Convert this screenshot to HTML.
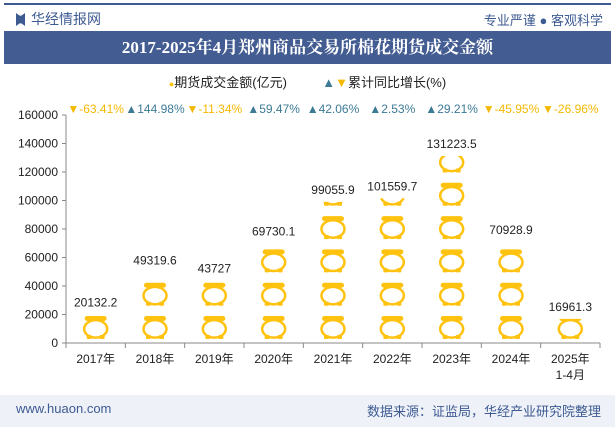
<!DOCTYPE html>
<html><head><meta charset="utf-8"><style>
body{margin:0;width:615px;height:427px;background:#fff;font-family:"Liberation Sans","Noto Sans CJK SC",sans-serif;overflow:hidden;position:relative}
.abs{position:absolute}
</style></head><body>
<div class="abs" style="left:4px;top:3px;width:607px;height:2px;background:#3d5a91"></div>
<div class="abs" style="left:16px;top:9px;font-size:14px;color:#3d5a91">
<span style="display:inline-block;width:9px;height:13px;background:#3d5a91;vertical-align:-2px;margin-right:6px;clip-path:polygon(0 0,40% 20%,60% 20%,100% 0,100% 100%,60% 80%,40% 80%,0 100%)"></span>华经情报网</div>
<div class="abs" style="right:12px;top:10px;font-size:13px;color:#3d5a91">专业严谨 ● 客观科学</div>
<div class="abs" style="left:4px;top:31px;width:607px;height:33px;background:#435c91;color:#fff;font:bold 17px 'Liberation Serif','Noto Serif CJK SC',serif;text-align:center;line-height:33px">2017-2025年4月郑州商品交易所棉花期货成交金额</div>
<div class="abs" style="left:0;width:615px;top:72px;text-align:center;font-size:13px;color:#222">
<span><span style="color:#FFC20E;font-size:9px">●</span>期货成交金额(亿元)</span>
<span style="display:inline-block;width:28px"></span>
<span><span style="color:#3c7a96">▲</span><span style="color:#f5b800">▼</span>累计同比增长(%)</span></div>
<svg class="abs" style="left:0;top:0" width="615" height="427" id="chart"></svg>
<div class="abs" style="left:0;top:395px;width:615px;height:32px;background:#eef1f8"></div>
<div class="abs" style="left:16px;top:401px;font-size:13px;color:#3d5a91">www.huaon.com</div>
<div class="abs" style="right:14px;top:401px;font-size:13px;color:#3d5a91">数据来源：证监局，华经产业研究院整理</div>
<script>
const categories=["2017年","2018年","2019年","2020年","2021年","2022年","2023年","2024年","2025年"];
const values=[20132.2,49319.6,43727,69730.1,99055.9,101559.7,131223.5,70928.9,16961.3];
const growth=[-63.41,144.98,-11.34,59.47,42.06,2.53,29.21,-45.95,-26.96];
const yTicks=[0,20000,40000,60000,80000,100000,120000,140000,160000];
const NS="http://www.w3.org/2000/svg";
const svg=document.getElementById('chart');
const x0=66,x1=600,yb=343,yt=115,yMax=160000;
const bw=(x1-x0)/categories.length;
const y=v=>yb-(v/yMax)*(yb-yt);
const xc=i=>x0+bw*(i+0.5);
function mk(t,a,p){const e=document.createElementNS(NS,t);for(const k in a)e.setAttribute(k,a[k]);(p||svg).appendChild(e);return e;}
const defs=mk('defs',{});
const ax=mk('line',{x1:x0,y1:yt,x2:x0,y2:yb,stroke:'#888'});

const bx=mk('line',{x1:x0,y1:yb,x2:x1,y2:yb,stroke:'#888'});

yTicks.forEach(t=>{
 mk('line',{x1:x0-4,y1:y(t),x2:x0,y2:y(t),stroke:'#888'});
 const tx=mk('text',{x:x0-8,y:y(t)+4,'text-anchor':'end','font-size':12,fill:'#222'});tx.textContent=t;
 
});
for(let i=0;i<=categories.length;i++)mk('line',{x1:x0+bw*i,y1:yb,x2:x0+bw*i,y2:yb+5,stroke:'#888'});
function pot(g,cx,top,h){
 const w=26;
 mk('ellipse',{cx:cx,cy:top+h*0.56,rx:w/2-1.5,ry:h*0.38,fill:'#fff',stroke:'#FFC20E','stroke-width':2.5},g);
 mk('rect',{x:cx-w/2+2,y:top,width:w-4,height:5,rx:2.5,fill:'#FFC20E'},g);
 mk('rect',{x:cx-9,y:top+h-4,width:5,height:4,rx:1,fill:'#FFC20E'},g);
 mk('rect',{x:cx+4,y:top+h-4,width:5,height:4,rx:1,fill:'#FFC20E'},g);
}
const pitch=33.3,potH=23,base=316;
values.forEach((v,i)=>{
 const cp=mk('clipPath',{id:'c'+i},defs);
 mk('rect',{x:xc(i)-20,y:y(v),width:40,height:yb-y(v)},cp);
 const g=mk('g',{'clip-path':'url(#c'+i+')'});
 
 for(let k=0;k<8;k++){const top=base-pitch*k;if(top+potH<y(v))break;pot(g,xc(i),top,potH);}
 const lb=mk('text',{x:xc(i),y:y(v)-8,'text-anchor':'middle','font-size':12,fill:'#222'});lb.textContent=v;
 
 const cl=mk('text',{x:xc(i),y:363,'text-anchor':'middle','font-size':12,fill:'#222'});cl.textContent=categories[i];
 
 const gv=growth[i],up=gv>=0;
 const gl=mk('text',{x:xc(i),y:113,'text-anchor':'middle','font-size':12,fill:up?'#3c7a96':'#f5b800'});
 gl.textContent=(up?'▲':'▼')+gv.toFixed(2)+'%';
 
});
const sub=mk('text',{x:xc(8),y:379,'text-anchor':'middle','font-size':12,fill:'#222'});sub.textContent='1-4月';

</script>
</body></html>
